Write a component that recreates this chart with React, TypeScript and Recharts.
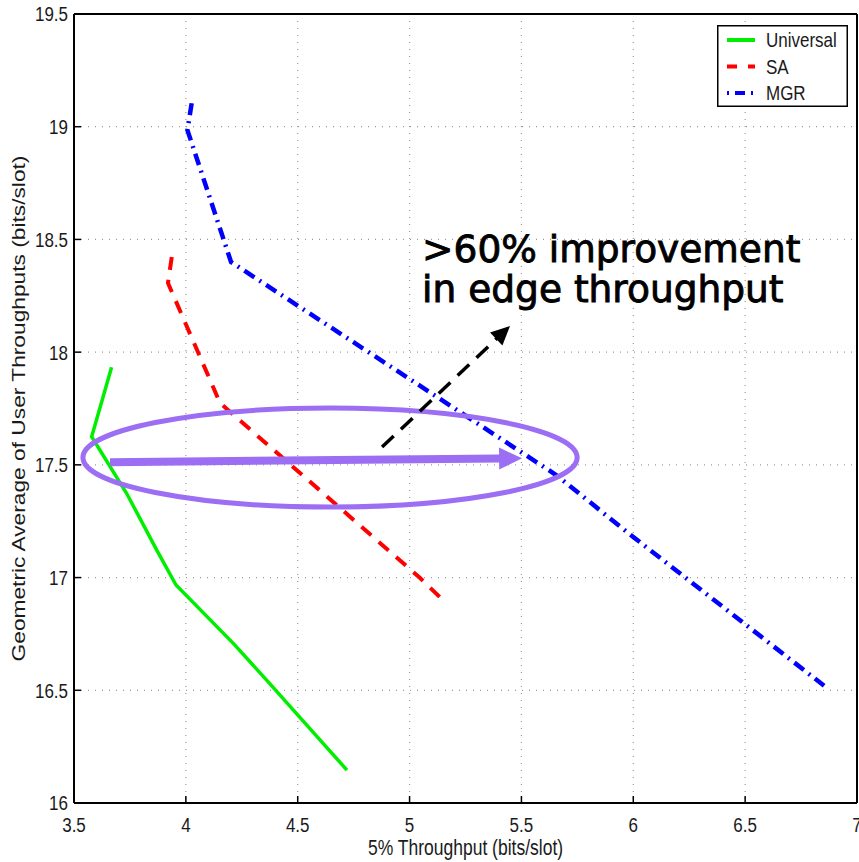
import React from 'react';
import {
  LineChart,
  Line,
  XAxis,
  YAxis,
  CartesianGrid,
  Legend,
  ReferenceArea,
  ReferenceLine,
  ReferenceDot,
  Label,
} from 'recharts';

// ---------- data ----------
const xTicks = [3.5, 4, 4.5, 5, 5.5, 6, 6.5, 7];
const yTicks = [16, 16.5, 17, 17.5, 18, 18.5, 19, 19.5];

const universalX = [3.668, 3.579, 3.735, 3.87, 3.956, 4.212, 4.361, 4.72];
const universalY = [17.933, 17.625, 17.374, 17.122, 16.967, 16.708, 16.545, 16.146];

const saX = [3.937, 3.92, 4.153, 5.047, 5.163];
const saY = [18.422, 18.307, 17.774, 16.998, 16.887];

const mgrX = [4.026, 4.007, 4.202, 5.655, 6.0, 6.853];
const mgrY = [19.104, 18.985, 18.4, 17.455, 17.18, 16.52];

const seriesNames = ['Universal', 'SA', 'MGR'];

// annotations (data coordinates)
const ellipseX = [3.54, 5.749];
const ellipseY = [17.313, 17.752];
const purpleArrowFrom = { x: 3.661, y: 17.512 };
const purpleArrowTo = { x: 5.503, y: 17.529 };
const blackArrowFrom = { x: 4.877, y: 17.579 };
const blackArrowTo = { x: 5.449, y: 18.116 };
const noteAnchor = { x: 5.056, y: 18.4 };
const noteLines = ['>60% improvement', 'in edge throughput'];

const xLabel = '5% Throughput (bits/slot)';
const yLabel = 'Geometric Average of User Throughputs (bits/slot)';

const toPoints = (xs: number[], ys: number[]) => xs.map((x, i) => ({ x, y: ys[i] }));
const universalData = toPoints(universalX, universalY);
const saData = toPoints(saX, saY);
const mgrData = toPoints(mgrX, mgrY);

// ---------- styles ----------
const FONT = "'Liberation Sans', Arial, Helvetica, sans-serif";
const STRETCH = 1.22;
const PURPLE = '#9b6ef3';
const SERIES_STYLE: Record<string, { color: string; width: number; dash?: string; legendDash?: string }> = {
  Universal: { color: '#00ee00', width: 3.5 },
  SA: { color: '#ff0000', width: 4, dash: '13 10', legendDash: '10 11' },
  MGR: { color: '#0000ff', width: 4.5, dash: '12 6 2 6', legendDash: '2 6 10 6 2' },
};

function YTick(props: any) {
  const { x, y, payload } = props;
  return (
    <g transform={`translate(${x},${y}) scale(1,${STRETCH})`}>
      <text x={0} y={0} dy="0.355em" textAnchor="end" fontSize={17} fontFamily={FONT} fill="#1a1a1a">
        {payload.value}
      </text>
    </g>
  );
}

function XTick(props: any) {
  const { x, y, payload } = props;
  return (
    <g transform={`translate(${x},${y}) scale(1,${STRETCH})`}>
      <text x={0} y={0} dy="0.71em" textAnchor="middle" fontSize={17} fontFamily={FONT} fill="#1a1a1a">
        {payload.value}
      </text>
    </g>
  );
}

function XLabelContent(props: any) {
  const vb = props.viewBox || {};
  const cx = vb.x + vb.width / 2;
  const by = vb.y + 52;
  return (
    <g transform={`translate(${cx},${by}) scale(1,${STRETCH})`}>
      <text x={0} y={0} textAnchor="middle" fontSize={17.5} fontFamily={FONT} fill="#1a1a1a">
        {xLabel}
      </text>
    </g>
  );
}

function YLabelContent(props: any) {
  const vb = props.viewBox || {};
  const cy = vb.y + vb.height / 2;
  return (
    <g transform={`translate(25,${cy}) rotate(-90) scale(${STRETCH + 0.08},1)`}>
      <text x={0} y={0} textAnchor="middle" fontSize={17.5} fontFamily={FONT} fill="#1a1a1a">
        {yLabel}
      </text>
    </g>
  );
}

function renderLegend() {
  return (
    <svg width={131} height={82} style={{ display: 'block' }}>
      <rect x={0.75} y={0.75} width={129.5} height={80.5} fill="#fff" stroke="#000" strokeWidth={1.5} />
      {seriesNames.map((name, i) => {
        const st = SERIES_STYLE[name];
        const cy = 15 + i * 26.5;
        return (
          <g key={name}>
            <line x1={10} x2={38} y1={cy} y2={cy} stroke={st.color} strokeWidth={4} strokeDasharray={st.legendDash} />
            <g transform={`translate(49,${cy}) scale(1,${STRETCH})`}>
              <text x={0} y={0} dy="0.355em" fontSize={17} fontFamily={FONT} fill="#1a1a1a">
                {name}
              </text>
            </g>
          </g>
        );
      })}
    </svg>
  );
}

function EllipseShape(p: any) {
  const { x, y, width, height } = p;
  return (
    <ellipse
      cx={x + width / 2}
      cy={y + height / 2}
      rx={Math.abs(width) / 2}
      ry={Math.abs(height) / 2}
      fill="none"
      stroke={PURPLE}
      strokeWidth={5}
    />
  );
}

function makeArrow(color: string, sw: number, head: number, hw: number, dash?: string) {
  return (p: any) => {
    const { x1, y1, x2, y2 } = p;
    const dx = x2 - x1;
    const dy = y2 - y1;
    const L = Math.hypot(dx, dy) || 1;
    const ux = dx / L;
    const uy = dy / L;
    const nx = -uy;
    const ny = ux;
    const bx = x2 - ux * head;
    const by = y2 - uy * head;
    return (
      <g>
        <line x1={x1} y1={y1} x2={bx + ux * 1} y2={by + uy * 1} stroke={color} strokeWidth={sw} strokeDasharray={dash} />
        <polygon points={`${x2},${y2} ${bx + nx * hw},${by + ny * hw} ${bx - nx * hw},${by - ny * hw}`} fill={color} />
      </g>
    );
  };
}

const PurpleArrow = makeArrow(PURPLE, 8, 23, 11);
const BlackArrow = makeArrow('#000', 3.5, 19, 9, '16 10');

function NoteShape(p: any) {
  const { cx, cy } = p;
  return (
    <g transform={`translate(${cx},${cy})`}>
      <text
        fontFamily="'DejaVu Sans', Verdana, sans-serif"
        fontSize={37.5}
        fill="#000"
        stroke="#000"
        strokeWidth={0.9}
      >
        {noteLines.map((t, i) => (
          <tspan key={i} x={0} y={i * 40}>
            {t}
          </tspan>
        ))}
      </text>
    </g>
  );
}

export default function App() {
  return (
    <div style={{ position: 'absolute', left: 0, top: 0, width: 859, height: 862, background: '#fff' }}>
      <LineChart width={859} height={862} margin={{ top: 13, right: 1, bottom: 0, left: 0 }}>
        <CartesianGrid stroke="#9a9a9a" strokeDasharray="1 6" strokeWidth={1.2} />
        <XAxis
          dataKey="x"
          type="number"
          domain={[3.5, 7]}
          ticks={xTicks}
          height={59}
          axisLine={{ stroke: '#000', strokeWidth: 2 }}
          tickLine={{ stroke: '#000', strokeWidth: 1.5 }}
          tickSize={-7}
          tickMargin={21}
          tick={<XTick />}
          interval={0}
          allowDataOverflow
        >
          <Label content={<XLabelContent />} position="bottom" />
        </XAxis>
        <XAxis
          xAxisId="top"
          orientation="top"
          type="number"
          domain={[3.5, 7]}
          ticks={xTicks}
          height={1}
          axisLine={{ stroke: '#000', strokeWidth: 2 }}
          tickLine={{ stroke: '#000', strokeWidth: 1.5 }}
          tickSize={-7}
          tick={false}
          allowDataOverflow
        />
        <YAxis
          type="number"
          domain={[16, 19.5]}
          ticks={yTicks}
          width={74}
          axisLine={{ stroke: '#000', strokeWidth: 2 }}
          tickLine={{ stroke: '#000', strokeWidth: 1.5 }}
          tickSize={-7}
          tickMargin={13}
          tick={<YTick />}
          interval={0}
          allowDataOverflow
        >
          <Label content={<YLabelContent />} position="left" />
        </YAxis>
        <YAxis
          yAxisId="right"
          orientation="right"
          type="number"
          domain={[16, 19.5]}
          ticks={yTicks}
          width={1}
          axisLine={{ stroke: '#000', strokeWidth: 2 }}
          tickLine={{ stroke: '#000', strokeWidth: 1.5 }}
          tickSize={-7}
          tick={false}
          allowDataOverflow
        />
        <Line
          data={universalData}
          dataKey="y"
          name={seriesNames[0]}
          type="linear"
          stroke={SERIES_STYLE.Universal.color}
          strokeWidth={SERIES_STYLE.Universal.width}
          dot={false}
          activeDot={false}
          isAnimationActive={false}
        />
        <Line
          data={saData}
          dataKey="y"
          name={seriesNames[1]}
          type="linear"
          stroke={SERIES_STYLE.SA.color}
          strokeWidth={SERIES_STYLE.SA.width}
          strokeDasharray={SERIES_STYLE.SA.dash}
          dot={false}
          activeDot={false}
          isAnimationActive={false}
        />
        <Line
          data={mgrData}
          dataKey="y"
          name={seriesNames[2]}
          type="linear"
          stroke={SERIES_STYLE.MGR.color}
          strokeWidth={SERIES_STYLE.MGR.width}
          strokeDasharray={SERIES_STYLE.MGR.dash}
          dot={false}
          activeDot={false}
          isAnimationActive={false}
        />
        <ReferenceArea
          x1={ellipseX[0]}
          x2={ellipseX[1]}
          y1={ellipseY[0]}
          y2={ellipseY[1]}
          shape={EllipseShape}
          zIndex={1000}
        />
        <ReferenceLine
          segment={[purpleArrowFrom, purpleArrowTo]}
          shape={PurpleArrow}
          zIndex={1000}
        />
        <ReferenceLine
          segment={[blackArrowFrom, blackArrowTo]}
          shape={BlackArrow}
          zIndex={1000}
        />
        <ReferenceDot x={noteAnchor.x} y={noteAnchor.y} r={1} shape={NoteShape} zIndex={1000} />
        <Legend
          content={renderLegend}
          layout="horizontal"
          verticalAlign="middle"
          align="center"
          wrapperStyle={{ left: 717, top: 25, width: 131, height: 82 }}
        />
      </LineChart>
    </div>
  );
}
